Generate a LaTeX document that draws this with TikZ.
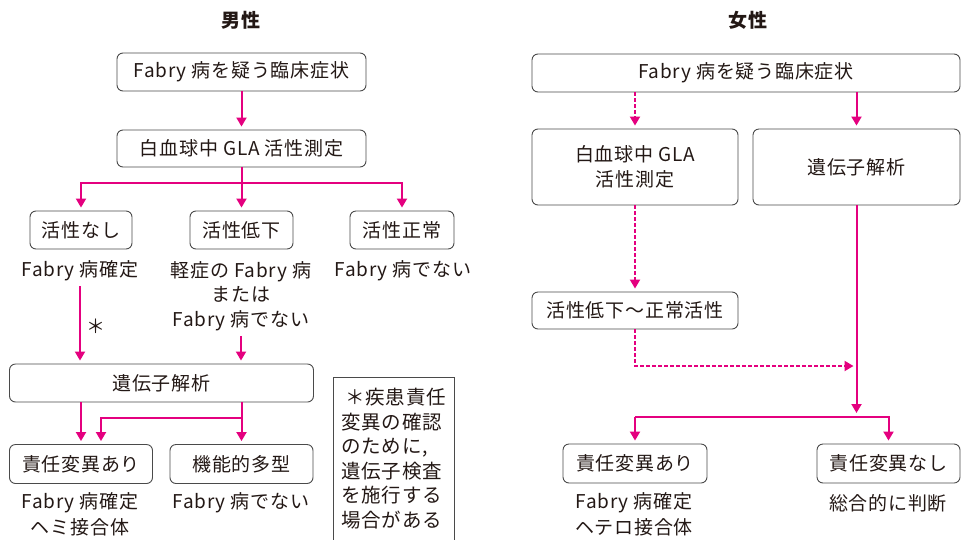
\documentclass[tikz,border=0pt]{standalone}
\usepackage{fontspec}
\setmainfont{Noto Sans CJK JP}[LetterSpace=4]
\usetikzlibrary{arrows.meta}
\definecolor{pk}{HTML}{E4007F}
\definecolor{bx}{HTML}{4A4A4A}
\definecolor{tx}{HTML}{231815}
\tikzset{
  box/.style={draw=bx, line width=0.9pt, rounded corners=6pt, inner sep=0pt, align=center, text=tx},
  lbl/.style={inner sep=1pt, align=center, text=tx},
  arr/.style={draw=pk, line width=2pt, shorten >=3pt, -{Triangle[width=10pt,length=9pt]}},
  dotarr/.style={arr, dash pattern=on 3.5pt off 2.5pt},
  ln/.style={draw=pk, line width=2pt},
}
\begin{document}
\begin{tikzpicture}[x=1pt,y=-1pt, font=\fontsize{19}{24.5}\selectfont]
\useasboundingbox (0,0) rectangle (961,539);
% ---------- left: male ----------
\node[lbl, font=\fontsize{19}{20}\selectfont\bfseries] (tm) at (241,20) {男性};
\node[box, minimum width=249pt, minimum height=38pt] (L1) at (241.5,72) {Fabry 病を疑う臨床症状};
\node[box, minimum width=249pt, minimum height=37pt] (L2) at (241.5,148.5) {白血球中 GLA 活性測定};
\coordinate (b1) at (241.5,183);
\node[box, minimum width=102pt, minimum height=38pt] (L3a) at (81,230) {活性なし};
\node[box, minimum width=103pt, minimum height=38pt] (L3b) at (241.5,230) {活性低下};
\node[box, minimum width=104pt, minimum height=38pt] (L3c) at (402,230) {活性正常};
\draw[arr] (L1) -- (L2);
\draw[ln] (L2.south) -- (b1);
\draw[arr] (b1) -| (L3a.north);
\draw[arr] (b1) -| (L3c.north);
\draw[arr] (b1) -- (L3b.north);
\node[lbl] (T1) at (80,271) {Fabry 病確定};
\node[lbl] (T2) at (241,296) {軽症の Fabry 病\\または\\Fabry 病でない};
\node[lbl] (T3) at (403,271) {Fabry 病でない};
\node[lbl] (ast) at (96,326) {＊};
\node[box, minimum width=304pt, minimum height=38pt] (L4) at (161.5,383) {遺伝子解析};
\draw[arr] (T1.south) ++(0,4) -- (T1.south |- L4.north);
\draw[arr] (T2.south) ++(0,4) -- (T2.south |- L4.north);
\node[box, minimum width=143pt, minimum height=39pt] (L5a) at (81,464) {責任変異あり};
\node[box, minimum width=143pt, minimum height=39pt] (L5b) at (241.5,464) {機能的多型};
\coordinate (m1) at (241.5,418);
\draw[arr] (L4.south -| L5a.north) -- (L5a.north);
\draw[arr] (L4.south -| L5b.north) -- (L5b.north);
\draw[arr] (m1) -| ([xshift=20pt]L5a.north);
\node[lbl] (T4) at (80,503) {Fabry 病確定};
\node[lbl] (T5) at (80,527) {ヘミ接合体};
\node[lbl] (T6) at (241,503) {Fabry 病でない};
\draw[bx, line width=0.9pt] (333,545) -- (333,377) -- (454.5,377) -- (454.5,545);
\node[lbl, anchor=north west, align=left, font=\fontsize{19.5}{24.5}\selectfont] (note) at (340,387)
  {\hspace{4pt}＊疾患責任\\変異の確認\\のために,\\遺伝子検査\\を施行する\\場合がある};
% ---------- right: female ----------
\node[lbl, font=\fontsize{19}{20}\selectfont\bfseries] (tf) at (748,20) {女性};
\node[box, minimum width=428pt, minimum height=38pt] (R1) at (746,73) {Fabry 病を疑う臨床症状};
\node[box, minimum width=206pt, minimum height=76pt] (R2) at (635,167) {白血球中 GLA\\活性測定};
\node[box, minimum width=207pt, minimum height=76pt] (R3) at (856.5,167) {遺伝子解析};
\draw[dotarr] (R1.south -| R2.north) -- (R2.north);
\draw[arr] (R1.south -| R3.north) -- (R3.north);
\node[box, minimum width=206pt, minimum height=37pt] (R4) at (635,310.5) {活性低下〜正常活性};
\draw[dotarr] (R2.south) -- (R4.north);
\coordinate (rj) at (856.5,366);
\coordinate (rb) at (856.5,417);
\draw[dotarr] (R4.south) |- (rj);
\draw[arr, shorten >=4pt] (R3.south) -- (rb);
\node[box, minimum width=144pt, minimum height=39pt] (R5a) at (635,463.5) {責任変異あり};
\node[box, minimum width=143pt, minimum height=39pt] (R5b) at (888.5,463.5) {責任変異なし};
\draw[arr] (rb -| R5a.north) -| (R5b.north);
\draw[arr] (rb -| R5a.north) -- (R5a.north);
\node[lbl] (T7) at (634,503) {Fabry 病確定};
\node[lbl] (T8) at (634,527) {ヘテロ接合体};
\node[lbl] (T9) at (888,503) {総合的に判断};
\end{tikzpicture}
\end{document}
